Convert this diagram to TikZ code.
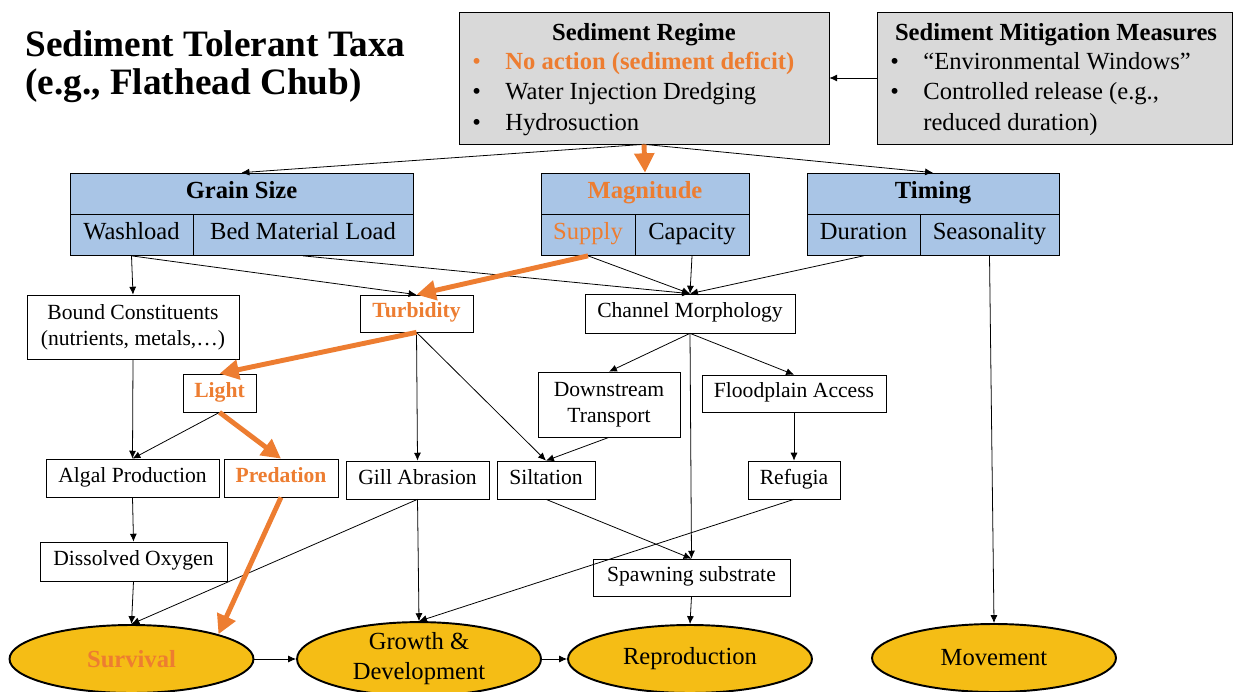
\documentclass[tikz,border=0pt]{standalone}
\usepackage{fontspec}
\setmainfont{Liberation Serif}
\usetikzlibrary{arrows.meta,shapes.geometric}

\definecolor{hotorange}{HTML}{ED7D31}
\definecolor{cellblue}{HTML}{A9C5E6}
\definecolor{regimegray}{HTML}{D9D9D9}
\definecolor{gold}{HTML}{F5BD15}

\begin{document}
\begin{tikzpicture}[x=0.02cm,y=-0.02cm]

\tikzset{box/.style = {draw, fill=white, inner sep=0pt, align=center, font=\fontsize{12.3}{15}\selectfont}}
\tikzset{onebox/.style = {box, text height=1.55ex, text depth=0.45ex}}
\tikzset{hotbox/.style = {onebox, text=hotorange, font=\fontsize{12.3}{15}\selectfont\bfseries}}
\tikzset{cell/.style = {draw, fill=cellblue, inner sep=0pt, minimum height=0.82cm, text height=1.6ex, text depth=0.45ex, font=\fontsize{14}{16}\selectfont}}
\tikzset{greybox/.style = {draw, fill=regimegray, inner sep=0pt, minimum height=2.64cm}}
\tikzset{line/.style = {anchor=base west, inner sep=0pt, font=\fontsize{14}{16}\selectfont}}
\tikzset{outcome/.style = {ellipse, draw, line width=1.1pt, fill=gold, inner sep=0pt, minimum width=4.88cm, minimum height=1.36cm, align=center, font=\fontsize{14}{17}\selectfont}}
\tikzset{edge/.style = {-{Latex[length=4.5pt,width=4pt]}, line width=0.45pt}}
\tikzset{hotedge/.style = {-{Triangle[length=11pt,width=11pt]}, line width=2.8pt, draw=hotorange}}

\useasboundingbox (0,0) rectangle (1236,692);

% title
\node[anchor=base west, inner sep=0pt, font=\fontsize{21.2}{23}\selectfont\bfseries] (ttl1) at (25,57) {Sediment Tolerant Taxa};
\node[anchor=base west, inner sep=0pt, font=\fontsize{21.2}{23}\selectfont\bfseries] (ttl2) at (25,95) {(e.g., Flathead Chub)};

% sediment regime and mitigation
\node[greybox, minimum width=7.4cm] (regime) at (644,78) {};
\node[line, anchor=base, font=\fontsize{14}{16}\selectfont\bfseries] (regT) at (644,41) {Sediment Regime};
\node[line, text=hotorange] (regB1) at (472,70) {\textbullet};
\node[line, text=hotorange, font=\fontsize{14}{16}\selectfont\bfseries] (regL1) at (505,70) {No action (sediment deficit)};
\node[line] (regB2) at (472,100) {\textbullet};
\node[line] (regL2) at (505,100) {Water Injection Dredging};
\node[line] (regB3) at (472,131) {\textbullet};
\node[line] (regL3) at (505,131) {Hydrosuction};

\node[greybox, minimum width=7.1cm] (mitig) at (1054.5,78) {};
\node[line, anchor=base, font=\fontsize{14}{16}\selectfont\bfseries] (mitT) at (1056,41) {Sediment Mitigation Measures};
\node[line] (mitB1) at (890,70) {\textbullet};
\node[line] (mitL1) at (923,70) {``Environmental Windows''};
\node[line] (mitB2) at (890,100) {\textbullet};
\node[line] (mitL2) at (923,100) {Controlled release (e.g.,};
\node[line] (mitL3) at (923,131) {reduced duration)};

% sediment attributes
\node[cell, minimum width=6.86cm, font=\fontsize{14}{16}\selectfont\bfseries] (grain) at (241.5,193.5) {Grain Size};
\node[cell, minimum width=2.46cm] (wash) at (131.5,235) {Washload};
\node[cell, minimum width=4.4cm] (bml) at (303,235) {Bed Material Load};

\node[cell, minimum width=4.16cm, text=hotorange, font=\fontsize{14}{16}\selectfont\bfseries] (magn) at (645,193.5) {Magnitude};
\node[cell, minimum width=1.88cm, text=hotorange] (supply) at (588,235) {Supply};
\node[cell, minimum width=2.28cm] (capac) at (692,235) {Capacity};

\node[cell, minimum width=5.04cm, font=\fontsize{14}{16}\selectfont\bfseries] (timing) at (933,193.5) {Timing};
\node[cell, minimum width=2.26cm] (durat) at (863.5,235) {Duration};
\node[cell, minimum width=2.78cm] (season) at (989.5,235) {Seasonality};

% mechanisms
\node[box, minimum width=4.24cm, minimum height=1.28cm] (bound) at (133,327) {Bound Constituents\\(nutrients, metals,\dots)};
\node[hotbox, minimum width=2.26cm, minimum height=0.74cm] (turb) at (416.5,313.5) {Turbidity};
\node[onebox, minimum width=4.2cm, minimum height=0.78cm] (chan) at (690,313.5) {Channel Morphology};

\node[hotbox, minimum width=1.46cm, minimum height=0.76cm] (light) at (219.5,393) {Light};
\node[box, minimum width=2.84cm, minimum height=1.3cm] (down) at (609,404.5) {Downstream\\Transport};
\node[onebox, minimum width=3.68cm, minimum height=0.74cm] (flood) at (794,393.5) {Floodplain Access};

\node[onebox, minimum width=3.46cm, minimum height=0.76cm] (algal) at (132.5,478) {Algal Production};
\node[hotbox, minimum width=2.28cm, minimum height=0.76cm] (pred) at (281,478) {Predation};
\node[onebox, minimum width=2.86cm, minimum height=0.76cm] (gill) at (417.5,480) {Gill Abrasion};
\node[onebox, minimum width=1.96cm, minimum height=0.76cm] (silt) at (546,480) {Siltation};
\node[onebox, minimum width=1.84cm, minimum height=0.76cm] (refug) at (794,480) {Refugia};

\node[onebox, minimum width=3.74cm, minimum height=0.78cm] (doxy) at (133.5,561.5) {Dissolved Oxygen};
\node[onebox, minimum width=3.94cm, minimum height=0.74cm] (spawn) at (691.5,577.5) {Spawning substrate};

% responses
\node[outcome, text=hotorange, font=\fontsize{14}{17}\selectfont\bfseries] (surv) at (131.5,659) {Survival};
\node[outcome] (growth) at (419,659) {Growth \&\\Development};
\node[outcome] (repro) at (690,659) {Reproduction};
\node[outcome] (move) at (994,658) {Movement};

% links
\draw[edge] (mitig.west) -- (regime.east);
\draw[edge] (regime.south) -- (grain.north);
\draw[edge] (regime.south) -- (timing.north);

\draw[edge] (wash.south) -- (bound.north);
\draw[edge] (wash.south) -- (turb.north);
\draw[edge] (bml.south) -- (chan.north);
\draw[edge] (supply.south) -- (chan.north);
\draw[edge] (capac.south) -- (chan.north);
\draw[edge] (durat.south) -- (chan.north);
\draw[edge] (season.south) -- (move.north);

\draw[edge] (chan.south) -- (down.north);
\draw[edge] (chan.south) -- (flood.north);
\draw[edge] (chan.south) -- (spawn.north);
\draw[edge] (turb.south) -- (gill.north);
\draw[edge] (turb.south) -- (silt.north);
\draw[edge] (bound.south) -- (algal.north);
\draw[edge] (light.south) -- (algal.north);
\draw[edge] (down.south) -- (silt.north);
\draw[edge] (flood.south) -- (refug.north);

\draw[edge] (algal.south) -- (doxy.north);
\draw[edge] (doxy.south) -- (surv.north);
\draw[edge] (gill.south) -- (surv.north);
\draw[edge] (gill.south) -- (growth.north);
\draw[edge] (silt.south) -- (spawn.north);
\draw[edge] (refug.south) -- (growth.north);
\draw[edge] (spawn.south) -- (repro.north);

\draw[edge] (surv.east) -- (growth.west);
\draw[edge] (growth.east) -- (repro.west);

% highlighted pathway
\draw[hotedge] (regime.south) -- (magn.north);
\draw[hotedge] (supply.south) -- (turb.north);
\draw[hotedge] (turb.south) -- (light.north);
\draw[hotedge] (light.south) -- (pred.north);
\draw[hotedge] (pred.south) -- (surv.north east);

\end{tikzpicture}
\end{document}
